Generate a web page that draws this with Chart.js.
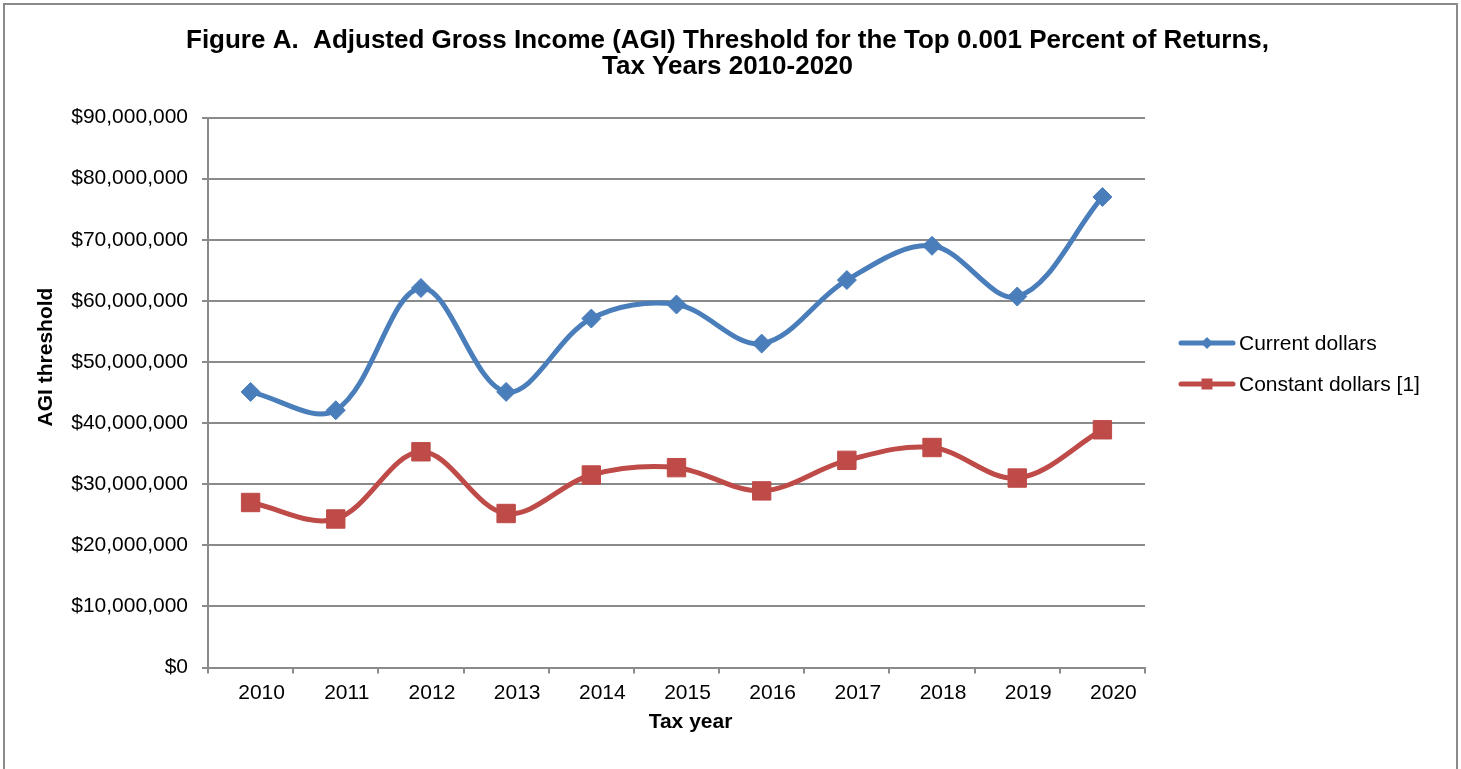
<!DOCTYPE html>
<html>
<head>
<meta charset="utf-8">
<title>AGI Threshold for the Top 0.001 Percent of Returns</title>
<script src="https://cdn.jsdelivr.net/npm/chart.js@4/dist/chart.umd.min.js"></script>
<style>
  html, body { margin: 0; padding: 0; background: #fff; }
  #wrap { width: 1461px; height: 769px; }
</style>
</head>
<body>
<div id="wrap"><canvas id="agiChart" width="1461" height="769"></canvas></div>
<script>
// tax years and AGI thresholds (dollars)
const taxYears = ['2010', '2011', '2012', '2013', '2014', '2015', '2016', '2017', '2018', '2019', '2020'];
const currentDollars = [45100000, 42100000, 62100000, 45100000, 57100000, 59400000, 53000000, 63400000, 69000000, 60700000, 77000000];
const constantDollars = [27000000, 24300000, 35300000, 25200000, 31500000, 32700000, 28900000, 33900000, 36000000, 31000000, 38900000];
const seriesNames = ['Current dollars', 'Constant dollars [1]'];
const titleLines = ['Figure A.  Adjusted Gross Income (AGI) Threshold for the Top 0.001 Percent of Returns,', 'Tax Years 2010-2020'];
const yAxisTitle = 'AGI threshold';
const xAxisTitle = 'Tax year';
const yMin = 0, yMax = 90000000, yStep = 10000000;

const FONT = '"Liberation Sans", Arial, Helvetica, sans-serif';
const GRID = '#8a8a8a';
const BLUE = '#4A7EBB';
const RED = '#BE4B48';

// small marker helper for the legend
function legendMarker(ctx, style, x, y, color) {
  ctx.fillStyle = color;
  ctx.beginPath();
  if (style === 'rectRot') {
    const r = 6;
    ctx.moveTo(x - r, y); ctx.lineTo(x, y - r); ctx.lineTo(x + r, y); ctx.lineTo(x, y + r);
  } else {
    const h = 5.5;
    ctx.rect(x - h, y - h, h * 2, h * 2);
  }
  ctx.closePath();
  ctx.fill();
}

// frame, title, axis titles and legend
const chartDecor = {
  id: 'chartDecor',
  beforeDraw(chart) {
    const ctx = chart.ctx;
    ctx.save();
    ctx.fillStyle = '#fff';
    ctx.fillRect(0, 0, chart.width, chart.height);
    ctx.restore();
  },
  afterDraw(chart) {
    const ctx = chart.ctx;
    const area = chart.chartArea;
    ctx.save();

    ctx.strokeStyle = GRID;
    ctx.lineWidth = 2;
    ctx.strokeRect(4, 4, chart.width - 8, chart.height + 40);

    ctx.fillStyle = '#000';
    ctx.textAlign = 'center';
    ctx.textBaseline = 'alphabetic';
    ctx.font = 'bold 26px ' + FONT;
    titleLines.forEach((t, i) => ctx.fillText(t, chart.width / 2 - 3, 48 + i * 25.5));

    ctx.font = 'bold 21px ' + FONT;
    ctx.fillText(xAxisTitle, (area.left + area.right) / 2 + 14, 728);
    ctx.save();
    ctx.translate(52, 357);
    ctx.rotate(-Math.PI / 2);
    ctx.fillText(yAxisTitle, 0, 0);
    ctx.restore();

    // legend: line with marker, then series name
    ctx.font = '21px ' + FONT;
    ctx.textAlign = 'left';
    ctx.textBaseline = 'middle';
    chart.data.datasets.forEach((ds, i) => {
      const y = 343 + i * 41;
      const x0 = area.right + 36;
      ctx.strokeStyle = ds.borderColor;
      ctx.lineWidth = 5;
      ctx.lineCap = 'round';
      ctx.beginPath();
      ctx.moveTo(x0, y);
      ctx.lineTo(x0 + 52, y);
      ctx.stroke();
      legendMarker(ctx, ds.pointStyle, x0 + 26, y, ds.borderColor);
      ctx.fillStyle = '#000';
      ctx.fillText(ds.label, x0 + 58, y + 1);
    });

    ctx.restore();
  }
};

new Chart(document.getElementById('agiChart').getContext('2d'), {
  type: 'line',
  data: {
    labels: taxYears,
    datasets: [{
      label: seriesNames[0],
      data: currentDollars,
      borderColor: BLUE,
      backgroundColor: BLUE,
      borderWidth: 5,
      tension: 0.35,
      pointStyle: 'rectRot',
      pointRadius: 9.5,
      pointBorderWidth: 1,
      pointBackgroundColor: BLUE,
      pointBorderColor: BLUE
    }, {
      label: seriesNames[1],
      data: constantDollars,
      borderColor: RED,
      backgroundColor: RED,
      borderWidth: 5,
      tension: 0.35,
      pointStyle: 'rect',
      pointRadius: 13,
      pointBorderWidth: 1,
      pointBackgroundColor: RED,
      pointBorderColor: RED
    }]
  },
  options: {
    responsive: false,
    animation: false,
    devicePixelRatio: 1,
    layout: { padding: { top: 117.5, right: 316, bottom: 0, left: 0 } },
    plugins: {
      legend: { display: false },
      title: { display: false },
      tooltip: { enabled: false }
    },
    scales: {
      x: {
        offset: true,
        afterFit: (scale) => { scale.height = 101.5; },
        grid: { drawOnChartArea: false, drawTicks: true, tickLength: 6, offset: true, color: GRID, lineWidth: 2 },
        border: { color: GRID, width: 2 },
        ticks: { color: '#000', font: { family: FONT, size: 21 }, padding: 7, labelOffset: 11, maxRotation: 0, autoSkip: false }
      },
      y: {
        min: yMin,
        max: yMax,
        afterFit: (scale) => { scale.width = 208; },
        grid: { drawTicks: true, tickLength: 6, color: GRID, lineWidth: 2 },
        border: { color: GRID, width: 2 },
        ticks: {
          stepSize: yStep,
          padding: 14,
          color: '#000',
          font: { family: FONT, size: 21 },
          callback: (v) => '$' + Number(v).toLocaleString('en-US')
        }
      }
    }
  },
  plugins: [chartDecor]
});
</script>
</body>
</html>
